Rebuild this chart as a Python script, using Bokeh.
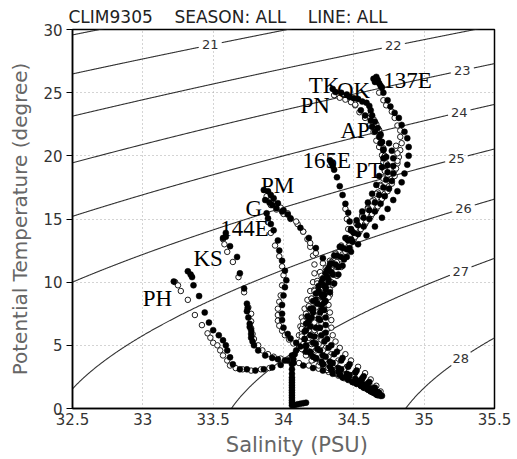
import numpy as np
from bokeh.plotting import figure
from bokeh.models import Range1d, FixedTicker, NumeralTickFormatter, Title
from bokeh.core.properties import value
from bokeh.embed import file_html
from bokeh.resources import INLINE

# ---------------------------------------------------------------------------
# Climatological T-S points per section line, (salinity PSU, potential temp C)
# filled = one set of stations, open = the other
# ---------------------------------------------------------------------------
PH_FILLED = [(33.22, 10.05), (33.32, 10.86), (33.34, 10.6), (33.35, 10.4), (33.36, 9.75),
             (33.40, 8.9), (33.44, 7.6), (33.47, 6.8), (33.50, 6.2), (33.54, 5.8),
             (33.57, 5.4), (33.59, 5.0), (33.60, 4.6), (33.62, 4.05), (33.64, 3.5),
             (33.69, 3.1), (33.74, 3.1), (33.80, 3.0), (33.86, 3.1), (33.92, 3.25),
             (33.98, 3.45), (34.03, 3.8), (34.06, 4.2), (34.09, 4.6)]
PH_DEEP = [(34.08, 4.3), (34.07, 3.9), (34.06, 3.5), (34.06, 3.1), (34.06, 2.75),
           (34.06, 2.45), (34.06, 2.25), (34.06, 2.05), (34.06, 1.85), (34.06, 1.65),
           (34.06, 1.45), (34.06, 1.25), (34.06, 1.05), (34.06, 0.85), (34.06, 0.65),
           (34.06, 0.45), (34.06, 0.25), (34.08, 0.28), (34.10, 0.33), (34.12, 0.38),
           (34.14, 0.42), (34.16, 0.46)]
PH_OPEN = [(33.23, 10.0), (33.25, 9.75), (33.27, 9.3), (33.32, 8.6), (33.37, 7.4),
           (33.42, 6.6), (33.46, 5.95), (33.48, 5.6), (33.50, 5.2), (33.53, 5.0),
           (33.55, 4.6), (33.57, 4.2), (33.60, 3.8), (33.62, 3.4), (33.66, 3.2),
           (33.71, 3.1), (33.77, 3.0), (33.84, 3.1), (33.90, 3.2)]

KS_FILLED = [(33.59, 13.9), (33.59, 13.6), (33.57, 13.5), (33.62, 12.85), (33.67, 12.0),
             (33.69, 10.7), (33.72, 9.5), (33.74, 8.3), (33.745, 7.95), (33.74, 7.7),
             (33.75, 7.2), (33.76, 6.7), (33.76, 6.45), (33.77, 6.2), (33.77, 5.9),
             (33.77, 5.6), (33.78, 5.3), (33.79, 5.0), (33.82, 4.6), (33.87, 4.2),
             (33.92, 4.0), (33.96, 3.9), (34.01, 3.8), (34.07, 3.6), (34.14, 3.4),
             (34.21, 3.2), (34.28, 3.0), (34.35, 2.75), (34.42, 2.45), (34.49, 2.1),
             (34.55, 1.8), (34.60, 1.5), (34.64, 1.25), (34.67, 1.05), (34.69, 1.0)]
KS_OPEN = [(33.57, 13.4), (33.58, 13.0), (33.60, 12.4), (33.64, 11.6), (33.68, 10.4),
           (33.72, 9.2), (33.75, 8.0), (33.77, 7.5), (33.77, 6.9), (33.77, 6.35),
           (33.78, 5.9), (33.79, 5.5), (33.82, 5.0), (33.85, 4.6), (33.89, 4.3),
           (33.93, 4.1), (33.98, 3.95), (34.04, 3.8), (34.11, 3.6), (34.18, 3.4),
           (34.25, 3.15), (34.32, 2.9), (34.39, 2.6), (34.46, 2.25), (34.52, 1.95),
           (34.58, 1.6), (34.63, 1.3)]

E144_FILLED = [(33.88, 15.45), (33.89, 15.05), (33.91, 14.6), (33.93, 14.1), (33.96, 13.3),
               (33.97, 12.5), (33.99, 11.7), (34.01, 10.9), (34.02, 10.15), (34.01, 9.6),
               (34.00, 8.95), (33.99, 8.2), (33.99, 7.5), (33.99, 7.0), (34.00, 6.4),
               (34.03, 5.9), (34.05, 5.55), (34.09, 5.2), (34.12, 4.9), (34.16, 4.5),
               (34.21, 4.1), (34.27, 3.7), (34.33, 3.3), (34.39, 2.9), (34.45, 2.5),
               (34.51, 2.1), (34.57, 1.75), (34.62, 1.4), (34.66, 1.15)]
E144_OPEN = [(33.89, 14.75), (33.91, 13.9), (33.94, 12.9), (33.97, 12.05), (33.99, 11.25),
             (34.00, 10.55), (33.99, 9.75), (33.98, 8.95), (33.97, 8.45), (33.96, 7.9),
             (33.96, 7.4), (33.96, 6.95), (33.97, 6.55), (33.99, 6.15), (34.01, 5.8),
             (34.04, 5.45), (34.07, 5.15), (34.11, 4.85), (34.15, 4.55), (34.20, 4.2),
             (34.26, 3.85), (34.32, 3.5), (34.38, 3.1), (34.44, 2.7), (34.50, 2.3),
             (34.56, 1.95), (34.61, 1.6), (34.65, 1.3)]

G_FILLED = [(33.87, 16.5), (33.90, 16.3), (33.92, 16.1), (33.95, 15.85), (33.99, 15.6),
            (34.03, 15.35)]
G_OPEN = [(33.88, 16.55), (33.91, 16.1), (33.95, 15.75), (34.00, 15.4), (34.05, 15.0),
          (34.10, 14.6), (34.14, 14.0), (34.17, 13.4), (34.19, 12.8), (34.21, 12.1),
          (34.22, 11.4), (34.22, 10.7), (34.21, 10.0), (34.19, 9.3), (34.17, 8.6),
          (34.15, 7.9), (34.13, 7.2), (34.12, 6.5), (34.11, 5.8), (34.12, 5.2),
          (34.14, 4.7), (34.17, 4.25), (34.21, 3.85), (34.26, 3.45), (34.32, 3.1),
          (34.38, 2.75), (34.44, 2.4), (34.50, 2.05), (34.56, 1.75), (34.61, 1.45),
          (34.65, 1.2)]

PM_FILLED = [(33.86, 17.3), (33.89, 17.2), (33.91, 16.9), (33.93, 16.65), (33.96, 16.25),
             (34.00, 15.7), (34.05, 15.05), (34.12, 14.3), (34.18, 13.5), (34.23, 12.7),
             (34.28, 11.9), (34.32, 11.1), (34.31, 10.4), (34.29, 9.7), (34.27, 9.0),
             (34.24, 8.3), (34.21, 7.6), (34.18, 6.9), (34.16, 6.2), (34.15, 5.5),
             (34.16, 4.9), (34.19, 4.4), (34.23, 3.95), (34.28, 3.5), (34.34, 3.1),
             (34.40, 2.75), (34.46, 2.4), (34.52, 2.05), (34.57, 1.7), (34.62, 1.4),
             (34.66, 1.15)]
PM_OPEN = [(33.88, 16.8), (33.91, 16.5), (33.94, 16.2), (33.98, 15.9), (34.03, 15.45),
           (34.09, 14.8), (34.14, 14.0), (34.19, 13.1), (34.23, 12.3), (34.28, 11.5),
           (34.26, 10.8), (34.24, 10.1), (34.22, 9.4), (34.20, 8.7), (34.18, 8.0),
           (34.16, 7.3), (34.14, 6.6), (34.13, 5.9), (34.12, 5.3), (34.13, 4.7),
           (34.16, 4.2), (34.20, 3.8), (34.25, 3.4), (34.31, 3.05), (34.37, 2.75),
           (34.43, 2.4), (34.49, 2.1), (34.55, 1.8), (34.60, 1.5), (34.65, 1.2)]

E165_FILLED = [(34.33, 19.65), (34.34, 19.45), (34.35, 19.2), (34.36, 18.9), (34.38, 18.3),
               (34.40, 17.6), (34.42, 16.9), (34.44, 16.2), (34.46, 15.5), (34.47, 14.8),
               (34.48, 14.1), (34.48, 13.4), (34.47, 12.7), (34.45, 12.0), (34.42, 11.3),
               (34.39, 10.6), (34.36, 9.9), (34.33, 9.2), (34.30, 8.5), (34.27, 7.8),
               (34.25, 7.1), (34.23, 6.4), (34.22, 5.7), (34.23, 5.1), (34.26, 4.6),
               (34.30, 4.1), (34.35, 3.6), (34.41, 3.1), (34.47, 2.65), (34.53, 2.2),
               (34.58, 1.85), (34.63, 1.5), (34.67, 1.2)]
E165_OPEN = [(34.44, 15.8), (34.45, 15.0), (34.46, 14.2), (34.46, 13.4), (34.45, 12.6),
             (34.43, 11.9), (34.41, 11.2), (34.38, 10.5), (34.35, 9.8), (34.33, 9.0),
             (34.31, 8.2), (34.29, 7.4), (34.27, 6.7), (34.26, 6.0), (34.27, 5.4),
             (34.30, 4.8), (34.34, 4.3), (34.39, 3.8), (34.45, 3.3), (34.51, 2.8),
             (34.56, 2.35), (34.61, 1.9), (34.65, 1.5)]

E137_FILLED = [(34.64, 26.1), (34.66, 26.25), (34.67, 26.0), (34.65, 25.85), (34.68, 25.75),
               (34.69, 25.55), (34.70, 25.4), (34.71, 25.0), (34.74, 24.4), (34.76, 23.9),
               (34.79, 23.4), (34.82, 23.0), (34.84, 22.45), (34.86, 21.9), (34.88, 21.4),
               (34.89, 20.7), (34.89, 20.0), (34.88, 19.3), (34.86, 18.6), (34.84, 17.9),
               (34.81, 17.2), (34.78, 16.5), (34.74, 15.8), (34.70, 15.1), (34.65, 14.4),
               (34.59, 13.7), (34.53, 13.0), (34.48, 12.4), (34.43, 11.8), (34.39, 11.2),
               (34.35, 10.6), (34.32, 10.0), (34.30, 9.4), (34.28, 8.8), (34.27, 8.2),
               (34.26, 7.6), (34.26, 7.0), (34.26, 6.4), (34.27, 5.8), (34.29, 5.3),
               (34.32, 4.8), (34.36, 4.3), (34.41, 3.8), (34.46, 3.3), (34.51, 2.85),
               (34.56, 2.4), (34.60, 2.0), (34.64, 1.6), (34.67, 1.3), (34.70, 1.0)]
E137_OPEN = [(34.68, 25.0), (34.71, 24.4), (34.73, 24.0), (34.77, 23.5), (34.79, 23.0),
             (34.81, 22.4), (34.83, 22.0), (34.83, 21.5), (34.84, 21.0), (34.83, 20.45),
             (34.82, 19.9), (34.81, 19.4), (34.79, 18.85), (34.77, 18.2), (34.75, 17.6),
             (34.72, 17.0), (34.69, 16.4), (34.66, 15.8), (34.62, 15.2), (34.58, 14.6),
             (34.54, 14.0), (34.50, 13.4), (34.46, 12.8), (34.42, 12.2), (34.38, 11.6),
             (34.34, 11.0), (34.31, 10.4), (34.28, 9.8), (34.26, 9.2), (34.24, 8.6),
             (34.22, 8.0), (34.20, 7.4), (34.19, 6.8), (34.18, 6.2), (34.18, 5.6),
             (34.20, 5.1), (34.23, 4.6), (34.27, 4.1), (34.32, 3.6), (34.38, 3.15),
             (34.44, 2.75), (34.50, 2.35), (34.55, 2.0), (34.60, 1.65), (34.64, 1.35),
             (34.67, 1.15)]

OK_FILLED = [(34.55, 23.6), (34.58, 23.2), (34.62, 22.8), (34.63, 22.3), (34.65, 21.9),
             (34.68, 21.5), (34.69, 21.0), (34.71, 20.45), (34.73, 19.9), (34.74, 19.25),
             (34.74, 18.7), (34.73, 18.1), (34.71, 17.5), (34.68, 16.9), (34.65, 16.3),
             (34.61, 15.7), (34.57, 15.1), (34.53, 14.5), (34.50, 13.9), (34.46, 13.3),
             (34.42, 12.7), (34.38, 12.1), (34.34, 11.5), (34.31, 10.9), (34.28, 10.3),
             (34.25, 9.7), (34.23, 9.1), (34.21, 8.5), (34.19, 7.9), (34.17, 7.3),
             (34.16, 6.7), (34.15, 6.1), (34.15, 5.5), (34.16, 5.0), (34.19, 4.5),
             (34.23, 4.0), (34.28, 3.5), (34.34, 3.05), (34.40, 2.65), (34.46, 2.3),
             (34.52, 1.95), (34.57, 1.65), (34.62, 1.35), (34.66, 1.1)]
OK_OPEN = [(34.51, 24.0), (34.54, 23.45), (34.58, 23.0), (34.61, 22.4), (34.64, 21.9),
           (34.66, 21.2), (34.68, 20.7), (34.70, 20.05), (34.71, 19.5), (34.72, 18.9),
           (34.71, 18.3), (34.69, 17.7), (34.67, 17.1), (34.64, 16.5), (34.60, 15.9),
           (34.56, 15.3), (34.52, 14.7), (34.48, 14.1), (34.45, 13.5), (34.41, 12.9),
           (34.37, 12.3), (34.33, 11.7), (34.30, 11.1), (34.27, 10.5), (34.24, 9.9),
           (34.22, 9.3), (34.20, 8.7), (34.18, 8.1), (34.16, 7.5), (34.14, 6.9),
           (34.13, 6.3), (34.13, 5.7), (34.14, 5.1), (34.17, 4.6), (34.21, 4.1),
           (34.26, 3.65), (34.32, 3.2), (34.38, 2.8), (34.44, 2.45), (34.50, 2.1),
           (34.55, 1.8), (34.60, 1.5), (34.64, 1.25)]

TK_FILLED = [(34.35, 25.3), (34.37, 25.05), (34.41, 25.0), (34.45, 24.85), (34.47, 24.65),
             (34.50, 24.55), (34.53, 24.5), (34.56, 24.3), (34.59, 24.2), (34.61, 23.95),
             (34.62, 23.6), (34.63, 23.2), (34.65, 22.7), (34.67, 22.2), (34.69, 21.7),
             (34.70, 21.1), (34.71, 20.5), (34.71, 19.8), (34.70, 19.1), (34.68, 18.4),
             (34.66, 17.7), (34.63, 17.0), (34.60, 16.3), (34.56, 15.6), (34.52, 14.9),
             (34.48, 14.2), (34.44, 13.5), (34.40, 12.8), (34.36, 12.1), (34.33, 11.4),
             (34.30, 10.7), (34.27, 10.0), (34.25, 9.3), (34.23, 8.6), (34.21, 7.9),
             (34.20, 7.2), (34.19, 6.5), (34.19, 5.8), (34.21, 5.2), (34.24, 4.7),
             (34.28, 4.2), (34.33, 3.7), (34.39, 3.2), (34.45, 2.75), (34.51, 2.35),
             (34.56, 1.95), (34.61, 1.6), (34.65, 1.3), (34.68, 1.1)]
PN_OPEN = [(34.36, 24.8), (34.40, 24.6), (34.44, 24.45), (34.48, 24.25), (34.51, 24.05)]

AP_OPEN = [(34.62, 23.3), (34.64, 22.9), (34.66, 22.5), (34.68, 22.05), (34.69, 21.6),
           (34.70, 21.1), (34.71, 20.6), (34.72, 20.0), (34.73, 19.4), (34.72, 18.8),
           (34.71, 18.2), (34.69, 17.6), (34.66, 17.0), (34.63, 16.4), (34.60, 15.8),
           (34.56, 15.2), (34.52, 14.6), (34.49, 14.0), (34.45, 13.4), (34.41, 12.8),
           (34.37, 12.2), (34.34, 11.6), (34.31, 11.0), (34.29, 10.4), (34.27, 9.8),
           (34.25, 9.2), (34.24, 8.6), (34.23, 8.0), (34.22, 7.4), (34.22, 6.8),
           (34.22, 6.2), (34.23, 5.6), (34.25, 5.1), (34.28, 4.6), (34.32, 4.1),
           (34.37, 3.6), (34.43, 3.1), (34.49, 2.65), (34.55, 2.2), (34.60, 1.8),
           (34.64, 1.45), (34.67, 1.2)]

PT_FILLED = [(34.75, 21.0), (34.77, 20.4), (34.78, 19.8), (34.78, 19.2), (34.78, 18.6),
             (34.77, 18.0), (34.75, 17.4), (34.72, 16.8), (34.69, 16.2), (34.65, 15.6),
             (34.61, 15.0), (34.57, 14.4), (34.53, 13.8), (34.49, 13.2), (34.45, 12.6),
             (34.41, 12.0), (34.37, 11.4), (34.34, 10.8), (34.32, 10.2), (34.30, 9.6),
             (34.29, 9.0), (34.29, 8.4), (34.29, 7.8), (34.30, 7.2), (34.30, 6.6),
             (34.30, 6.0), (34.31, 5.5), (34.34, 5.0), (34.38, 4.5), (34.42, 4.0),
             (34.47, 3.5), (34.52, 3.0), (34.57, 2.55), (34.61, 2.1), (34.65, 1.65),
             (34.68, 1.25)]
PT_OPEN = [(34.80, 20.8), (34.81, 20.2), (34.81, 19.6), (34.80, 19.0), (34.79, 18.4),
           (34.77, 17.8), (34.74, 17.2), (34.70, 16.6), (34.67, 16.0), (34.63, 15.4),
           (34.59, 14.8), (34.55, 14.2), (34.51, 13.6), (34.47, 13.0), (34.44, 12.4),
           (34.41, 11.8), (34.38, 11.2), (34.36, 10.6), (34.34, 10.0), (34.33, 9.4),
           (34.32, 8.8), (34.32, 8.2), (34.33, 7.6), (34.34, 7.0), (34.34, 6.4),
           (34.35, 5.8), (34.37, 5.3), (34.40, 4.8), (34.44, 4.3), (34.48, 3.8),
           (34.53, 3.3), (34.58, 2.8), (34.62, 2.3), (34.66, 1.8), (34.69, 1.35)]

FILLED_SETS = [PH_FILLED, PH_DEEP, KS_FILLED, E144_FILLED, G_FILLED, PM_FILLED,
               E165_FILLED, E137_FILLED, OK_FILLED, TK_FILLED, PT_FILLED]
OPEN_SETS = [PH_OPEN, KS_OPEN, E144_OPEN, G_OPEN, PM_OPEN, E165_OPEN, E137_OPEN,
             OK_OPEN, PN_OPEN, AP_OPEN, PT_OPEN]

# section-line names and where their names are written (left / baseline)
LINE_NAMES = ["PH", "KS", "144E", "G", "PM", "165E", "PT", "AP", "PN", "TK", "OK", "137E"]
LINE_LABEL_S = [33.00, 33.36, 33.55, 33.73, 33.84, 34.135, 34.51, 34.405, 34.12, 34.18, 34.38, 34.71]
LINE_LABEL_T = [8.72, 11.89, 14.27, 15.86, 17.68, 19.66, 18.87, 22.04, 24.02, 25.6, 25.2, 26.0]

# sigma-theta isopycnals drawn in the background and the salinity of each label
SIGMA_LEVELS = [20, 21, 22, 23, 24, 25, 26, 27, 28]
SIGMA_LABEL_S = [None, 33.48, 34.78, 35.27, 35.25, 35.23, 35.28, 35.26, 35.26]

X_TICKS = [32.5, 33, 33.5, 34, 34.5, 35, 35.5]
Y_TICKS = [0, 5, 10, 15, 20, 25, 30]
S_MIN, S_MAX, T_MIN, T_MAX = 32.5, 35.5, 0, 30

GAP = "\u00a0" * 4
TITLE = "CLIM9305" + GAP + "SEASON:\u00a0ALL" + GAP + "LINE:\u00a0ALL"
X_LABEL = "\u00a0" * 4 + "Salinity (PSU)"
Y_LABEL = "Potential Temperature (degree)"


def sigma0(S, T):
    """UNESCO 1980 equation of state at the surface, minus 1000 kg/m3."""
    rw = (999.842594 + 6.793952e-2 * T - 9.095290e-3 * T**2 + 1.001685e-4 * T**3
          - 1.120083e-6 * T**4 + 6.536332e-9 * T**5)
    a = 8.24493e-1 - 4.0899e-3 * T + 7.6438e-5 * T**2 - 8.2467e-7 * T**3 + 5.3875e-9 * T**4
    b = -5.72466e-3 + 1.0227e-4 * T - 1.6546e-6 * T**2
    c = 4.8314e-4
    return rw + a * S + b * S**1.5 + c * S**2 - 1000.0


def isopycnal_temperature(sig, S):
    """Temperature on the sigma-theta surface `sig` for each salinity (bisection)."""
    lo = np.full_like(S, -5.0)
    hi = np.full_like(S, 45.0)
    for _ in range(60):
        mid = 0.5 * (lo + hi)
        denser = sigma0(S, mid) > sig
        lo = np.where(denser, mid, lo)
        hi = np.where(denser, hi, mid)
    return 0.5 * (lo + hi)


W, H = 517, 459
LEFT, RIGHT, TOP, BOTTOM = 72, 23, 29, 51

title = Title(text=TITLE, text_font="DejaVu Sans", text_font_size="17px",
              text_font_style="normal", text_color="#222222", align="left",
              offset=-4, standoff=5)

p = figure(width=W, height=H, x_range=Range1d(S_MIN, S_MAX), y_range=Range1d(T_MIN, T_MAX),
           output_backend="svg", toolbar_location=None, title=title,
           min_border_left=LEFT, min_border_right=RIGHT,
           min_border_top=TOP, min_border_bottom=BOTTOM,
           background_fill_color="white", border_fill_color="white")

p.outline_line_color = "black"
p.outline_line_width = 1.5

# axes
p.xaxis.ticker = FixedTicker(ticks=X_TICKS)
p.yaxis.ticker = FixedTicker(ticks=Y_TICKS)
p.xaxis.formatter = NumeralTickFormatter(format="0.[0]")
for ax in (p.xaxis, p.yaxis):
    ax.axis_line_color = "black"
    ax.axis_line_width = 1.5
    ax.minor_tick_line_color = None
    ax.major_tick_line_color = "black"
    ax.major_label_text_font = "DejaVu Sans"
    ax.major_label_text_font_size = "15px"
    ax.major_label_text_color = "#333333"
    ax.axis_label_text_font = "DejaVu Sans"
    ax.axis_label_text_font_style = "normal"
    ax.axis_label_text_color = "#666666"
p.xaxis.axis_label_text_font_size = "21px"
p.yaxis.axis_label_text_font_size = "20px"
p.xaxis.major_tick_in = 0
p.xaxis.major_tick_out = 0
p.xaxis.major_label_standoff = 4
p.xaxis.axis_label = X_LABEL
p.xaxis.axis_label_standoff = 5
p.yaxis.major_tick_in = 0
p.yaxis.major_tick_out = 6
p.yaxis.major_label_standoff = 4
p.yaxis.axis_label = Y_LABEL
p.yaxis.axis_label_standoff = 8

# dotted grid
for g in (p.xgrid, p.ygrid):
    g.grid_line_color = "#a8a8a8"
    g.grid_line_dash = "1 3"
    g.grid_line_width = 1

# isopycnals with a gap around each label
px_per_s = (W - LEFT - RIGHT) / (S_MAX - S_MIN)
px_per_t = (H - TOP - BOTTOM) / (T_MAX - T_MIN)
s_grid = np.linspace(S_MIN, S_MAX, 900)
for level, s_lab in zip(SIGMA_LEVELS, SIGMA_LABEL_S):
    t_line = isopycnal_temperature(level, s_grid)
    if s_lab is not None:
        t_lab = float(isopycnal_temperature(level, np.array([s_lab]))[0])
        dist = np.hypot((s_grid - s_lab) * px_per_s, (t_line - t_lab) * px_per_t)
        t_line = np.where(dist < 11.5, np.nan, t_line)
        p.text(x=[s_lab], y=[t_lab], text=[str(level)], text_align="center",
               text_baseline="middle", text_font=value("DejaVu Sans"),
               text_font_size="13px", text_color="#333333")
    p.line(s_grid, t_line, line_color="#333333", line_width=1.1)

# T-S points: open circles first, filled dots on top
for pts in OPEN_SETS:
    s, t = zip(*pts)
    p.scatter(list(s), list(t), marker="circle", size=5.5, fill_color="white",
              line_color="#1e1e1e", line_width=1)
for pts in FILLED_SETS:
    s, t = zip(*pts)
    p.scatter(list(s), list(t), marker="circle", size=6, fill_color="black",
              line_color="black", line_width=0.5)

# section-line names
p.text(x=LINE_LABEL_S, y=LINE_LABEL_T, text=LINE_NAMES, text_align="left",
       text_baseline="alphabetic", text_font=value("Liberation Serif"),
       text_font_size="23px", text_color="black")

open("out.html", "w").write(file_html(p, INLINE))
